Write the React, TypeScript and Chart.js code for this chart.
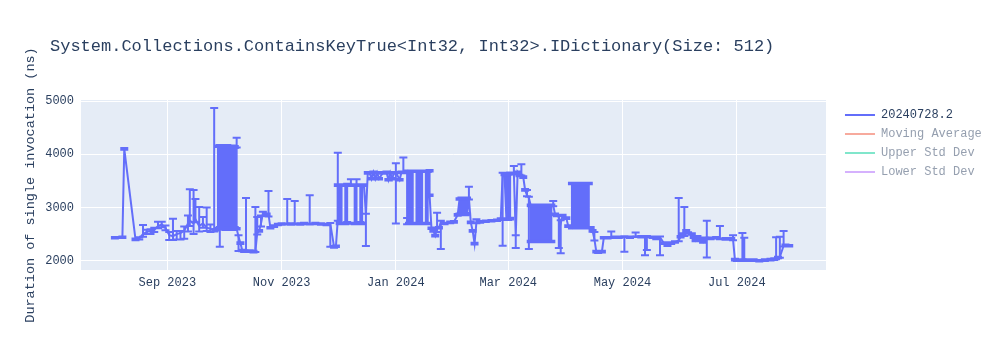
import React, { useEffect, useRef } from 'react';
import { Chart, registerables } from 'chart.js';

Chart.register(...registerables);

const TITLE = 'System.Collections.ContainsKeyTrue<Int32, Int32>.IDictionary(Size: 512)';
const Y_TITLE = 'Duration of single invocation (ns)';
const LEGEND_NAMES = ['20240728.2', 'Moving Average', 'Upper Std Dev', 'Lower Std Dev'];
const LEGEND_LINE_COLORS = ['#636efa', '#f7aa9d', '#80e6cb', '#d5b1fd'];
const LEGEND_TEXT_COLORS = ['#2a3f5f', '#959faf', '#959faf', '#959faf'];

const X_TICK_DATES = ['2023-09-01', '2023-11-01', '2024-01-01', '2024-03-01', '2024-05-01', '2024-07-01'];
const X_TICK_LABELS = ['Sep 2023', 'Nov 2023', 'Jan 2024', 'Mar 2024', 'May 2024', 'Jul 2024'];
const Y_TICKS = [2000, 3000, 4000, 5000];
const X_RANGE = ['2023-07-16T21:36:00Z', '2024-08-17T15:00:00Z'];
const Y_RANGE = [1825, 5019];

const dates = [
  '2023-08-04','2023-08-08','2023-08-09','2023-08-15','2023-08-17','2023-08-19','2023-08-21','2023-08-23','2023-08-25','2023-08-27','2023-08-29','2023-08-31',
  '2023-09-02','2023-09-04','2023-09-06','2023-09-08','2023-09-10','2023-09-12','2023-09-13','2023-09-15','2023-09-16','2023-09-18','2023-09-20','2023-09-22','2023-09-24','2023-09-26','2023-09-27',
  '2023-09-28','2023-09-28','2023-09-29','2023-09-29','2023-09-30','2023-09-30','2023-10-01','2023-10-01','2023-10-02','2023-10-02','2023-10-03','2023-10-03','2023-10-04','2023-10-04',
  '2023-10-05','2023-10-05','2023-10-06','2023-10-06','2023-10-07','2023-10-07','2023-10-07','2023-10-07','2023-10-08','2023-10-08',
  '2023-10-09','2023-10-10','2023-10-11','2023-10-12','2023-10-13','2023-10-15','2023-10-17','2023-10-18','2023-10-19','2023-10-20','2023-10-21','2023-10-22','2023-10-24','2023-10-25','2023-10-26','2023-10-28','2023-10-30',
  '2023-11-01','2023-11-04','2023-11-06','2023-11-08','2023-11-11','2023-11-13','2023-11-16','2023-11-19','2023-11-22','2023-11-25','2023-11-27','2023-11-29','2023-11-30',
  '2023-12-01','2023-12-01','2023-12-02','2023-12-02','2023-12-03','2023-12-03','2023-12-05','2023-12-05','2023-12-06','2023-12-06','2023-12-08',
  '2023-12-10','2023-12-10','2023-12-11','2023-12-11','2023-12-13','2023-12-13','2023-12-14','2023-12-14','2023-12-15','2023-12-16','2023-12-17',
  '2023-12-18','2023-12-19','2023-12-20','2023-12-21','2023-12-22','2023-12-23','2023-12-25','2023-12-27','2023-12-28','2023-12-29','2023-12-30','2023-12-31','2024-01-01','2024-01-03','2024-01-04','2024-01-05','2024-01-06',
  '2024-01-07','2024-01-07','2024-01-08','2024-01-08','2024-01-09','2024-01-09','2024-01-10','2024-01-10','2024-01-12','2024-01-12','2024-01-13','2024-01-13',
  '2024-01-14','2024-01-14','2024-01-15','2024-01-15','2024-01-17','2024-01-17','2024-01-18','2024-01-18','2024-01-19','2024-01-19',
  '2024-01-20','2024-01-21','2024-01-22','2024-01-23','2024-01-24','2024-01-25','2024-01-27','2024-01-30','2024-02-01','2024-02-03',
  '2024-02-04','2024-02-04','2024-02-05','2024-02-05','2024-02-06','2024-02-06','2024-02-07','2024-02-07','2024-02-08','2024-02-08','2024-02-09',
  '2024-02-10','2024-02-11','2024-02-12','2024-02-13','2024-02-15','2024-02-18','2024-02-21','2024-02-24','2024-02-26',
  '2024-02-27','2024-02-28','2024-02-29','2024-02-29','2024-03-01','2024-03-01','2024-03-02','2024-03-02','2024-03-04','2024-03-05','2024-03-06','2024-03-07','2024-03-08','2024-03-09','2024-03-10','2024-03-11','2024-03-12',
  '2024-03-13','2024-03-13','2024-03-14','2024-03-14','2024-03-15','2024-03-15','2024-03-16','2024-03-16','2024-03-17','2024-03-17','2024-03-18','2024-03-18',
  '2024-03-19','2024-03-19','2024-03-20','2024-03-20','2024-03-21','2024-03-21','2024-03-22','2024-03-22','2024-03-23','2024-03-23','2024-03-24','2024-03-24',
  '2024-03-25','2024-03-26','2024-03-27','2024-03-28','2024-03-29','2024-03-30','2024-04-01','2024-04-02',
  '2024-04-04','2024-04-04','2024-04-05','2024-04-05','2024-04-06','2024-04-06','2024-04-07','2024-04-07','2024-04-08','2024-04-08',
  '2024-04-09','2024-04-09','2024-04-10','2024-04-10','2024-04-11','2024-04-11','2024-04-12','2024-04-12','2024-04-13','2024-04-13',
  '2024-04-14','2024-04-15','2024-04-16','2024-04-17','2024-04-18','2024-04-20','2024-04-21','2024-04-23','2024-04-25','2024-04-27','2024-04-29','2024-05-02','2024-05-05','2024-05-08',
  '2024-05-11','2024-05-13','2024-05-14','2024-05-17','2024-05-19','2024-05-21','2024-05-23','2024-05-25','2024-05-27','2024-05-29','2024-05-31',
  '2024-06-01','2024-06-02','2024-06-03','2024-06-04','2024-06-05','2024-06-07','2024-06-08','2024-06-09','2024-06-10','2024-06-12','2024-06-13','2024-06-14','2024-06-15','2024-06-17',
  '2024-06-20','2024-06-22','2024-06-25','2024-06-28','2024-06-29','2024-06-30','2024-07-01','2024-07-03','2024-07-04','2024-07-05','2024-07-07','2024-07-10','2024-07-13','2024-07-16','2024-07-19','2024-07-21','2024-07-22','2024-07-23','2024-07-24','2024-07-26','2024-07-27','2024-07-29',
];

const durations = [
  2430,2440,4100,2400,2420,2500,2540,2560,2580,2650,2680,2620,
  2480,2460,2500,2520,2560,2700,2750,2700,2780,2650,2700,2620,2600,2570,2580,
  2600,4150,4160,2620,2600,4150,4140,2610,2590,4150,4160,2600,2610,4140,
  4150,2600,2590,4150,4140,2620,2600,4130,4140,2600,
  2450,2330,2190,2180,2200,2180,2170,2180,2520,2560,2700,2880,2870,2870,2620,2650,2680,
  2690,2700,2690,2700,2690,2700,2700,2700,2690,2680,2690,2260,2270,
  2780,3420,3420,2700,2700,3420,3420,2700,2710,3430,3420,
  3420,2700,2700,3420,3420,2710,2700,3420,3420,2860,3650,
  3650,3540,3660,3540,3650,3540,3650,3660,3520,3650,3540,3650,3660,3520,3660,3670,3660,
  3680,2700,2700,3680,3680,2700,2700,3680,3680,2700,2700,3680,
  3680,2700,2700,3680,3680,2700,2700,3680,3690,3230,
  2610,2560,2470,2600,2620,2720,2700,2720,2730,2860,
  3160,2870,2870,3170,3160,2870,2870,3170,3170,2880,3170,
  2720,2560,2320,2720,2730,2740,2750,2760,2780,
  3630,3620,2780,3620,3630,2780,2790,3640,3640,2460,3660,3600,3620,3570,3330,3230,3180,
  3040,2360,2360,3040,3040,2360,2360,3040,3040,2360,2360,3040,
  3040,2360,2360,3040,3040,2360,2360,3040,3040,2360,2360,3040,
  3040,2870,2850,2820,2700,2850,2800,2650,
  2620,3450,3450,2620,2620,3450,3450,2620,2620,3450,
  3450,2620,2620,3450,3450,2620,2620,3450,3450,2620,
  2620,2560,2400,2170,2160,2170,2430,2430,2440,2440,2440,2440,2440,2460,
  2450,2440,2450,2440,2420,2440,2330,2290,2330,2350,2380,
  2450,2500,2480,2560,2520,2500,2440,2380,2450,2390,2350,2420,2440,2420,
  2430,2420,2410,2410,2400,2020,2010,2010,2020,2030,2010,2010,2000,2010,2020,2030,2040,2060,2070,2280,2290,2280,
];

const errorPlus = [
  15,15,15,15,20,170,40,30,40,80,50,40,
  60,330,60,40,80,150,590,630,380,360,120,380,80,2300,15,
  15,15,15,15,15,15,15,15,15,15,15,15,15,15,
  15,15,15,15,15,15,15,15,170,15,
  30,15,15,15,980,15,15,830,300,15,150,40,15,440,15,15,15,
  15,460,15,420,15,15,530,15,15,15,20,15,15,
  1250,15,15,15,15,15,15,15,15,15,110,
  15,15,15,110,15,15,15,15,15,20,15,
  15,15,15,15,15,15,15,15,15,15,15,15,170,15,15,270,15,
  15,100,15,15,15,15,15,15,15,15,15,15,
  15,15,15,15,15,15,15,15,15,15,
  15,15,15,300,15,30,15,15,15,15,
  15,15,15,15,15,15,15,15,15,15,220,
  15,15,15,60,15,15,15,15,15,
  20,15,15,15,15,15,15,15,140,20,15,15,190,15,15,100,20,
  15,15,15,15,15,15,15,15,15,15,15,15,
  15,15,15,15,15,15,15,15,15,15,15,15,
  80,15,15,20,60,15,15,15,
  15,15,15,15,15,15,15,15,15,15,
  15,15,15,15,15,15,15,15,15,15,
  15,15,140,15,15,15,15,15,110,15,15,20,15,70,
  15,15,15,15,15,15,15,15,15,15,800,
  15,15,530,15,15,15,15,15,15,15,15,15,310,15,
  15,230,15,15,80,15,15,15,500,400,15,15,15,15,15,15,400,15,380,280,15,15,
];

const errorMinus = [
  15,15,15,15,20,50,40,60,40,40,50,50,
  90,70,100,120,150,150,100,200,60,100,80,60,60,20,15,
  15,15,15,360,15,15,15,15,15,15,15,15,15,15,
  15,15,15,15,15,15,15,15,15,15,
  270,15,15,15,20,15,15,15,30,15,60,40,15,40,15,15,15,
  15,20,15,20,15,15,20,15,15,15,430,15,15,
  30,15,15,15,15,15,15,15,15,15,15,
  15,15,15,15,15,15,15,15,15,585,15,
  15,15,15,15,15,15,15,15,15,15,15,15,960,15,15,20,15,
  15,15,15,15,15,15,15,15,15,15,15,15,
  15,15,15,15,15,15,15,15,15,15,
  15,15,15,60,15,500,15,15,15,15,
  15,15,15,15,15,15,15,15,15,15,20,
  15,15,15,15,15,15,15,15,15,
  1350,15,15,15,15,15,15,15,20,220,15,15,20,15,15,20,960,
  15,15,15,15,15,15,15,15,15,15,15,15,
  15,15,15,15,15,15,15,15,15,15,15,15,
  15,15,15,580,560,15,15,15,
  15,15,15,15,15,15,15,15,15,15,
  15,15,15,15,15,15,15,15,15,15,
  15,15,20,15,15,15,15,15,15,15,15,270,15,15,
  15,340,250,15,15,340,15,15,15,15,15,
  15,15,15,15,15,15,15,15,15,15,15,15,380,15,
  15,15,15,15,15,15,15,15,15,15,15,15,15,15,15,15,15,15,15,15,15,15,
];

const FONT = "'Liberation Mono', 'Courier New', monospace";
const INK = '#2a3f5f';
const PLOT_BG = '#e5ecf6';

const toTime = (d: string) => Date.parse(d.length === 10 ? d + 'T00:00:00Z' : d);

const plotBackground = {
  id: 'plotBackground',
  beforeDraw(chart: any) {
    const { ctx, chartArea } = chart;
    ctx.save();
    ctx.fillStyle = PLOT_BG;
    ctx.fillRect(chartArea.left, chartArea.top, chartArea.right - chartArea.left, chartArea.bottom - chartArea.top);
    ctx.restore();
  },
};

const errorBars = {
  id: 'errorBars',
  afterDatasetsDraw(chart: any) {
    const meta = chart.getDatasetMeta(0);
    if (!meta || meta.hidden) return;
    const xs = chart.scales.x;
    const ys = chart.scales.y;
    const { ctx, chartArea } = chart;
    ctx.save();
    ctx.beginPath();
    ctx.rect(chartArea.left, chartArea.top, chartArea.right - chartArea.left, chartArea.bottom - chartArea.top);
    ctx.clip();
    ctx.strokeStyle = LEGEND_LINE_COLORS[0];
    ctx.lineWidth = 2;
    ctx.beginPath();
    for (let i = 0; i < dates.length; i++) {
      const x = xs.getPixelForValue(toTime(dates[i]));
      const top = ys.getPixelForValue(durations[i] + errorPlus[i]);
      const bot = ys.getPixelForValue(durations[i] - errorMinus[i]);
      ctx.moveTo(x, top);
      ctx.lineTo(x, bot);
      ctx.moveTo(x - 4, top);
      ctx.lineTo(x + 4, top);
      ctx.moveTo(x - 4, bot);
      ctx.lineTo(x + 4, bot);
    }
    ctx.stroke();
    ctx.restore();
  },
};

const plotTitle = {
  id: 'plotTitle',
  afterDraw(chart: any) {
    const { ctx } = chart;
    ctx.save();
    ctx.font = `17px ${FONT}`;
    ctx.fillStyle = INK;
    ctx.textAlign = 'left';
    ctx.textBaseline = 'middle';
    ctx.fillText(TITLE, 50, 46);
    ctx.restore();
  },
};

export default function App() {
  const canvasRef = useRef<HTMLCanvasElement | null>(null);

  useEffect(() => {
    const canvas = canvasRef.current;
    if (!canvas) return;
    const points = dates.map((d, i) => ({ x: toTime(d), y: durations[i] }));
    const chart = new Chart(canvas, {
      type: 'line',
      data: {
        datasets: [
          {
            label: LEGEND_NAMES[0],
            data: points,
            borderColor: LEGEND_LINE_COLORS[0],
            backgroundColor: LEGEND_LINE_COLORS[0],
            borderWidth: 2,
            pointRadius: 0,
            tension: 0,
            fill: false,
          },
          ...LEGEND_NAMES.slice(1).map((name, k) => ({
            label: name,
            data: [] as any[],
            borderColor: LEGEND_LINE_COLORS[k + 1],
            borderWidth: 2,
            pointRadius: 0,
            hidden: true,
          })),
        ],
      },
      options: {
        animation: false,
        responsive: true,
        maintainAspectRatio: false,
        events: [],
        layout: { padding: { top: 100, left: 18, right: 8.2, bottom: 60 } },
        scales: {
          x: {
            type: 'linear',
            min: toTime(X_RANGE[0]),
            max: toTime(X_RANGE[1]),
            afterBuildTicks: (scale: any) => {
              scale.ticks = X_TICK_DATES.map((d) => ({ value: toTime(d) }));
            },
            afterFit: (scale: any) => {
              scale.height = 20;
            },
            ticks: {
              autoSkip: false,
              maxRotation: 0,
              padding: 6,
              color: INK,
              font: { family: FONT, size: 12 },
              callback: (_v: any, i: number) => X_TICK_LABELS[i],
            },
            grid: { color: '#ffffff', lineWidth: 1, drawTicks: false },
            border: { display: false },
          },
          y: {
            type: 'linear',
            position: 'left',
            min: Y_RANGE[0],
            max: Y_RANGE[1],
            afterBuildTicks: (scale: any) => {
              scale.ticks = Y_TICKS.map((v) => ({ value: v }));
            },
            afterFit: (scale: any) => {
              scale.width = 63;
            },
            ticks: {
              padding: 7,
              color: INK,
              font: { family: FONT, size: 12 },
              callback: (v: any) => String(v),
            },
            grid: { color: '#ffffff', lineWidth: 1, drawTicks: false },
            border: { display: false },
            title: {
              display: true,
              text: Y_TITLE,
              color: INK,
              font: { family: FONT, size: 13.5 },
              padding: { top: 4, bottom: 4 },
            },
          },
          gap: {
            type: 'linear',
            position: 'right',
            display: true,
            afterFit: (scale: any) => {
              scale.width = 12;
            },
            ticks: { display: false },
            grid: { display: false, drawTicks: false },
            border: { display: false },
          },
        },
        plugins: {
          title: { display: false },
          tooltip: { enabled: false },
          legend: {
            display: true,
            position: 'right',
            align: 'start',
            onClick: () => {},
            title: { display: true, text: '', font: { size: 2, lineHeight: 1 }, padding: 0 },
            labels: {
              usePointStyle: true,
              pointStyleWidth: 30,
              padding: 7,
              font: { family: FONT, size: 12 },
              generateLabels: () =>
                LEGEND_NAMES.map((name, i) => ({
                  text: name,
                  fillStyle: LEGEND_LINE_COLORS[i],
                  strokeStyle: LEGEND_LINE_COLORS[i],
                  lineWidth: 2,
                  pointStyle: 'line',
                  hidden: false,
                  fontColor: LEGEND_TEXT_COLORS[i],
                  datasetIndex: i,
                })),
            },
          },
        },
      },
      plugins: [plotBackground, errorBars, plotTitle],
    } as any);
    return () => chart.destroy();
  }, []);

  return (
    <div style={{ position: 'absolute', left: 0, top: 0, width: 1000, height: 350, background: '#ffffff' }}>
      <canvas ref={canvasRef} />
    </div>
  );
}
